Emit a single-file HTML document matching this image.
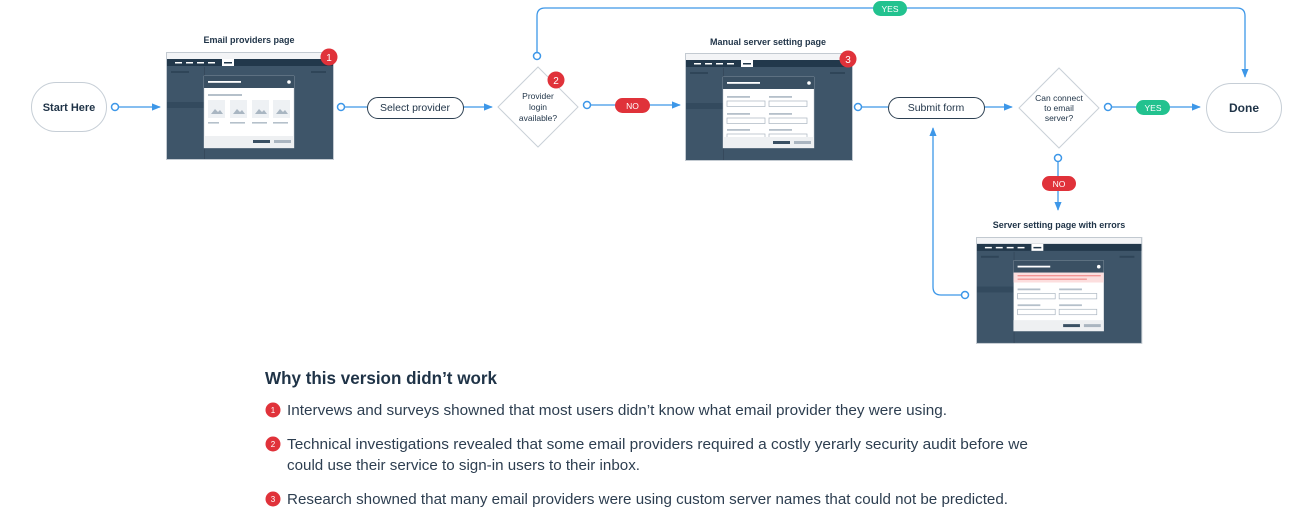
<!DOCTYPE html>
<html><head><meta charset="utf-8"><style>
html,body{margin:0;padding:0;background:#fff;}
svg{display:block;font-family:"Liberation Sans",sans-serif;}
</style></head><body>
<svg width="1300" height="509" viewBox="0 0 1300 509" xmlns="http://www.w3.org/2000/svg">
<defs>
<marker id="ar" viewBox="0 0 10 10" refX="9" refY="5" markerWidth="7" markerHeight="7" orient="auto"><path d="M0,1 L10,5 L0,9 z" fill="#3d97e8"/></marker>
<g id="frame">
  <rect x="0.5" y="0.5" width="167" height="107" fill="#3e5569" stroke="#c3cad1"/>
  <rect x="1" y="1" width="166" height="6" fill="#f3f4f6"/>
  <rect x="1" y="7" width="166" height="7" fill="#22384b"/>
  <rect x="9" y="10" width="7" height="1.5" fill="#fff"/>
  <rect x="20" y="10" width="7" height="1.5" fill="#fff"/>
  <rect x="31" y="10" width="7" height="1.5" fill="#fff"/>
  <rect x="42" y="10" width="7" height="1.5" fill="#fff"/>
  <rect x="56" y="7" width="12" height="7" fill="#fff"/>
  <rect x="58" y="10" width="8" height="1.5" fill="#22384b"/>
  <rect x="5" y="19" width="18" height="2" fill="#2f4558"/>
  <rect x="145" y="19" width="15" height="2" fill="#2f4558"/>
  <rect x="1" y="50" width="38" height="6" fill="#334a5e"/>
  <rect x="38" y="15" width="1" height="92" fill="#36495c"/>
</g>
</defs>

<g fill="none" stroke="#3d97e8" stroke-width="1.3">
  <line x1="119" y1="107" x2="160" y2="107" marker-end="url(#ar)"/>
  <line x1="345" y1="107" x2="367" y2="107"/>
  <line x1="463" y1="107" x2="492" y2="107" marker-end="url(#ar)"/>
  <line x1="591" y1="105" x2="680" y2="105" marker-end="url(#ar)"/>
  <line x1="862" y1="107" x2="888" y2="107"/>
  <line x1="984" y1="107" x2="1012" y2="107" marker-end="url(#ar)"/>
  <line x1="1112" y1="107" x2="1200" y2="107" marker-end="url(#ar)"/>
  <line x1="1058" y1="162" x2="1058" y2="210" marker-end="url(#ar)"/>
  <path d="M537,52 V16 Q537,8 545,8 H1237 Q1245,8 1245,16 V77" marker-end="url(#ar)"/>
  <path d="M961,295 H941 Q933,295 933,287 V128" marker-end="url(#ar)"/>
</g>
<g fill="#fff" stroke="#3d97e8" stroke-width="1.5">
  <circle cx="115" cy="107" r="3.5"/><circle cx="341" cy="107" r="3.5"/>
  <circle cx="587" cy="105" r="3.5"/><circle cx="858" cy="107" r="3.5"/>
  <circle cx="1108" cy="107" r="3.5"/><circle cx="1058" cy="158" r="3.5"/>
  <circle cx="537" cy="56" r="3.5"/><circle cx="965" cy="295" r="3.5"/>
</g>

<!-- terminals -->
<rect x="31.5" y="82.5" width="75" height="49" rx="24.5" fill="#fff" stroke="#c6ced6"/>
<text x="69" y="111" text-anchor="middle" font-size="11" font-weight="bold" fill="#1f3347">Start Here</text>
<rect x="1206.5" y="83.5" width="75" height="49" rx="24.5" fill="#fff" stroke="#c6ced6"/>
<text x="1244" y="112" text-anchor="middle" font-size="12" font-weight="bold" fill="#1f3347">Done</text>

<!-- process pills -->
<rect x="367.5" y="97.5" width="96" height="21" rx="10.5" fill="#fff" stroke="#2d4052"/>
<text x="415" y="111" text-anchor="middle" font-size="10.5" fill="#1f3347">Select provider</text>
<rect x="888.5" y="97.5" width="96" height="21" rx="10.5" fill="#fff" stroke="#2d4052"/>
<text x="936" y="111" text-anchor="middle" font-size="10.5" fill="#1f3347">Submit form</text>

<!-- diamonds -->
<polygon points="538,67 578,107 538,147 498,107" fill="#fff" stroke="#c9d0d7"/>
<text text-anchor="middle" font-size="8.5" fill="#1f3347"><tspan x="538" y="99">Provider</tspan><tspan x="538" y="110">login</tspan><tspan x="538" y="121">available?</tspan></text>
<polygon points="1059,68 1099,108 1059,148 1019,108" fill="#fff" stroke="#c9d0d7"/>
<text text-anchor="middle" font-size="8.5" fill="#1f3347"><tspan x="1059" y="101">Can connect</tspan><tspan x="1059" y="111">to email</tspan><tspan x="1059" y="121">server?</tspan></text>

<!-- labels -->
<rect x="873" y="1" width="34" height="15" rx="7.5" fill="#22c28f"/>
<text x="890" y="12" text-anchor="middle" font-size="8.5" fill="#fff">YES</text>
<rect x="1136" y="100" width="34" height="15" rx="7.5" fill="#22c28f"/>
<text x="1153" y="111" text-anchor="middle" font-size="8.5" fill="#fff">YES</text>
<rect x="615" y="98" width="35" height="15" rx="7.5" fill="#e0323a"/>
<text x="632.5" y="109" text-anchor="middle" font-size="8.5" fill="#fff">NO</text>
<rect x="1042" y="176" width="34" height="15" rx="7.5" fill="#e0323a"/>
<text x="1059" y="187" text-anchor="middle" font-size="8.5" fill="#fff">NO</text>

<!-- titles -->
<text x="249" y="43" text-anchor="middle" font-size="9" font-weight="bold" fill="#1f3347">Email providers page</text>
<text x="768" y="45" text-anchor="middle" font-size="9" font-weight="bold" fill="#1f3347">Manual server setting page</text>
<text x="1059" y="228" text-anchor="middle" font-size="9" font-weight="bold" fill="#1f3347">Server setting page with errors</text>

<!-- screenshot 1 -->
<g transform="translate(166,52)">
  <use href="#frame"/>
  <rect x="38" y="24" width="90" height="72" fill="#fff" stroke="#b9c2ca" stroke-width="0.5"/>
  <rect x="38" y="24" width="90" height="12" fill="#3a5063"/>
  <rect x="42" y="29" width="33" height="1.8" fill="#fff"/><circle cx="123" cy="30" r="1.8" fill="#fff"/>
  <rect x="42" y="42" width="34" height="2" fill="#b5c0ca"/>
  <g fill="#eef1f4"><rect x="42" y="48" width="17" height="18"/><rect x="64" y="48" width="17" height="18"/><rect x="86" y="48" width="17" height="18"/><rect x="107" y="48" width="17" height="18"/></g>
  <g fill="#a9b6c2"><path d="M45,62 l4,-5 3,3 2,-2 3,4z"/><path d="M67,62 l4,-5 3,3 2,-2 3,4z"/><path d="M89,62 l4,-5 3,3 2,-2 3,4z"/><path d="M110,62 l4,-5 3,3 2,-2 3,4z"/></g>
  <g fill="#b5c0ca"><rect x="42" y="70" width="11" height="1.6"/><rect x="64" y="70" width="15" height="1.6"/><rect x="86" y="70" width="15" height="1.6"/><rect x="107" y="70" width="15" height="1.6"/></g>
  <rect x="38" y="84" width="90" height="12" fill="#eef0f2"/>
  <rect x="87" y="88" width="17" height="3" fill="#3a5063"/><rect x="108" y="88" width="17" height="3" fill="#aab5c0"/>
</g>
<!-- screenshot 3 -->
<g transform="translate(685,53)">
  <use href="#frame"/>
  <rect x="38" y="24" width="91" height="71" fill="#fff" stroke="#b9c2ca" stroke-width="0.5"/>
  <rect x="38" y="24" width="91" height="12" fill="#3a5063"/>
  <rect x="42" y="29" width="33" height="1.8" fill="#fff"/><circle cx="124" cy="30" r="1.8" fill="#fff"/>
  <g fill="#b5c0ca"><rect x="42" y="43" width="23" height="1.8"/><rect x="84" y="43" width="23" height="1.8"/><rect x="42" y="60" width="23" height="1.8"/><rect x="84" y="60" width="23" height="1.8"/><rect x="42" y="76" width="23" height="1.8"/><rect x="84" y="76" width="23" height="1.8"/></g>
  <g fill="#fff" stroke="#aab5c0" stroke-width="0.7"><rect x="42" y="48" width="38" height="5.5"/><rect x="84" y="48" width="38" height="5.5"/><rect x="42" y="65" width="38" height="5.5"/><rect x="84" y="65" width="38" height="5.5"/><rect x="42" y="81" width="38" height="4"/><rect x="84" y="81" width="38" height="4"/></g>
  <rect x="38" y="84" width="91" height="11" fill="#eef0f2"/>
  <rect x="88" y="88" width="17" height="3" fill="#3a5063"/><rect x="109" y="88" width="17" height="3" fill="#aab5c0"/>
</g>
<!-- screenshot errors -->
<g transform="translate(976,237) scale(0.99,0.99)">
  <use href="#frame"/>
  <rect x="38" y="24" width="91" height="71" fill="#fff" stroke="#b9c2ca" stroke-width="0.5"/>
  <rect x="38" y="24" width="91" height="12" fill="#3a5063"/>
  <rect x="42" y="29" width="33" height="1.8" fill="#fff"/><circle cx="124" cy="30" r="1.8" fill="#fff"/>
  <rect x="38" y="36" width="91" height="10" fill="#fcdede"/>
  <rect x="42" y="38.5" width="84" height="1.2" fill="#f08a8a"/><rect x="42" y="42" width="70" height="1.2" fill="#f08a8a"/>
  <g fill="#b5c0ca"><rect x="42" y="52" width="23" height="1.8"/><rect x="84" y="52" width="23" height="1.8"/><rect x="42" y="68" width="23" height="1.8"/><rect x="84" y="68" width="23" height="1.8"/></g>
  <g fill="#fff" stroke="#aab5c0" stroke-width="0.7"><rect x="42" y="57" width="38" height="5.5"/><rect x="84" y="57" width="38" height="5.5"/><rect x="42" y="73" width="38" height="5.5"/><rect x="84" y="73" width="38" height="5.5"/></g>
  <rect x="38" y="84" width="91" height="11" fill="#eef0f2"/>
  <rect x="88" y="88" width="17" height="3" fill="#3a5063"/><rect x="109" y="88" width="17" height="3" fill="#aab5c0"/>
</g>

<!-- badges -->
<g fill="#e0323a"><circle cx="329" cy="57" r="8.5"/><circle cx="556" cy="80" r="8.5"/><circle cx="848" cy="59" r="8.5"/></g>
<g fill="#fff" font-size="10" text-anchor="middle"><text x="329" y="61">1</text><text x="556" y="84">2</text><text x="848" y="63">3</text></g>

<!-- notes -->
<text x="265" y="384" font-size="17.5" font-weight="bold" fill="#1f3347" textLength="232" lengthAdjust="spacingAndGlyphs">Why this version didn’t work</text>
<g fill="#e0323a"><circle cx="273" cy="410" r="7.5"/><circle cx="273" cy="444" r="7.5"/><circle cx="273" cy="499" r="7.5"/></g>
<g fill="#fff" font-size="8" text-anchor="middle"><text x="273" y="413">1</text><text x="273" y="447">2</text><text x="273" y="502">3</text></g>
<g font-size="15" fill="#2d3e50" lengthAdjust="spacingAndGlyphs">
<text x="287" y="415" textLength="660" lengthAdjust="spacingAndGlyphs">Intervews and surveys showned that most users didn’t know what email provider they were using.</text>
<text x="287" y="449" textLength="741" lengthAdjust="spacingAndGlyphs">Technical investigations revealed that some email providers required a costly yerarly security audit before we</text>
<text x="287" y="470" textLength="353" lengthAdjust="spacingAndGlyphs">could use their service to sign-in users to their inbox.</text>
<text x="287" y="504" textLength="721" lengthAdjust="spacingAndGlyphs">Research showned that many email providers were using custom server names that could not be predicted.</text>
</g>
</svg>
</body></html>
